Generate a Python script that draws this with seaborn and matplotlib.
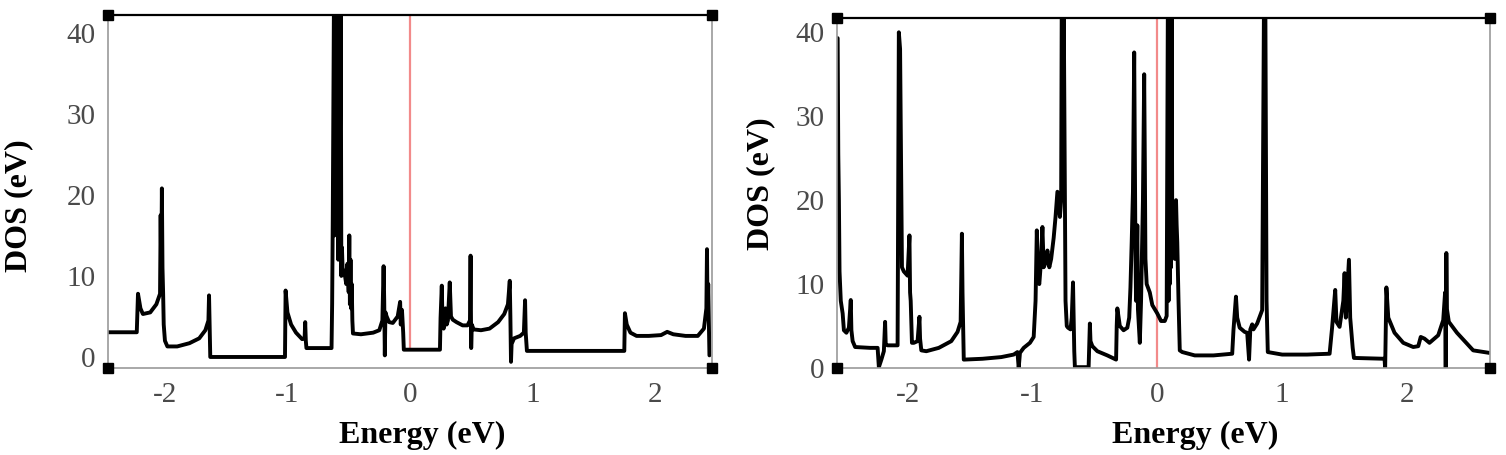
import matplotlib
matplotlib.use("Agg")
import matplotlib.pyplot as plt
import seaborn as sns
import pandas as pd

# DOS (energy in eV, DOS in states/eV)
left_energy = [
    -2.47, -2.23, -2.22, -2.20, -2.18, -2.12, -2.07, -2.04, -2.035, -2.03,
    -2.025, -2.02, -2.015, -2.01, -2.00, -1.98, -1.90, -1.80, -1.72, -1.67,
    -1.645, -1.64, -1.635, -1.63, -1.02, -1.015, -1.00, -0.97, -0.93, -0.88,
    -0.86, -0.855, -0.85, -0.845, -0.64, -0.635, -0.63, -0.62, -0.615, -0.61,
    -0.605, -0.60, -0.595, -0.59, -0.585, -0.58, -0.575, -0.565, -0.56, -0.555,
    -0.55, -0.53, -0.52, -0.51, -0.50, -0.495, -0.49, -0.485, -0.48, -0.475,
    -0.47, -0.465, -0.40, -0.30, -0.25, -0.225, -0.215, -0.21, -0.205, -0.20,
    -0.19, -0.17, -0.14, -0.10, -0.08, -0.075, -0.065, -0.055, -0.05, 0.245,
    0.25, 0.26, 0.265, 0.275, 0.28, 0.29, 0.30, 0.31, 0.325, 0.335,
    0.35, 0.38, 0.43, 0.47, 0.49, 0.495, 0.50, 0.505, 0.52, 0.58,
    0.65, 0.72, 0.77, 0.80, 0.815, 0.82, 0.825, 0.83, 0.85, 0.90,
    0.93, 0.94, 0.945, 0.955, 1.75, 1.755, 1.77, 1.80, 1.85, 1.95,
    2.05, 2.10, 2.15, 2.25, 2.35, 2.40, 2.42, 2.425, 2.43, 2.435,
    2.445,
]
left_dos = [
    3.05, 3.05, 7.8, 6.0, 5.3, 5.5, 6.5, 7.8, 17.5, 10,
    20.8, 11, 8, 4, 2.0, 1.3, 1.3, 1.7, 2.3, 3.3,
    4.5, 7.6, 3.5, 0.0, 0.0, 8.2, 5.5, 4.0, 3.0, 2.2,
    2.3, 4.3, 2.0, 1.1, 1.1, 6.6, 17, 45, 15, 45,
    20, 45, 18, 45, 12, 45, 14, 45, 10, 13.5,
    11, 10, 9, 11.5, 8, 15, 6.5, 12, 6, 9,
    4.5, 2.9, 2.8, 3.0, 3.3, 4.5, 11.2, 7, 0.2, 5.5,
    5, 4.3, 4.2, 5, 6.8, 4, 5.8, 3.0, 0.9, 0.9,
    4.8, 8.8, 5, 3.5, 4.5, 6, 4.0, 4.5, 9.2, 5,
    4.6, 4.3, 3.9, 3.9, 4.5, 12.5, 1.1, 4.0, 3.4, 3.3,
    3.5, 4.3, 5.3, 6.5, 9.4, 5, -0.6, 1.6, 2.3, 2.6,
    3.0, 7.0, 3.0, 0.75, 0.75, 5.4, 4.0, 3.0, 2.6, 2.6,
    2.7, 3.1, 2.8, 2.6, 2.6, 3.5, 6, 13.3, 5, 9,
    0.2,
]

right_energy = [
    -2.56, -2.555, -2.55, -2.545, -2.535, -2.52, -2.51, -2.49, -2.47, -2.455,
    -2.45, -2.44, -2.42, -2.30, -2.24, -2.23, -2.21, -2.19, -2.18, -2.175,
    -2.16, -2.08, -2.075, -2.07, -2.06, -2.05, -2.045, -2.03, -2.00, -1.985,
    -1.98, -1.975, -1.965, -1.95, -1.92, -1.905, -1.90, -1.89, -1.85, -1.75,
    -1.65, -1.60, -1.575, -1.565, -1.56, -1.555, -1.55, -1.40, -1.25, -1.15,
    -1.12, -1.11, -1.10, -1.07, -1.02, -0.99, -0.975, -0.965, -0.955, -0.945,
    -0.935, -0.92, -0.91, -0.895, -0.88, -0.865, -0.85, -0.83, -0.815, -0.80,
    -0.78, -0.77, -0.765, -0.755, -0.75, -0.74, -0.735, -0.725, -0.715, -0.695,
    -0.685, -0.675, -0.67, -0.665, -0.66, -0.55, -0.545, -0.54, -0.535, -0.52,
    -0.48, -0.40, -0.33, -0.325, -0.32, -0.30, -0.27, -0.24, -0.225, -0.215,
    -0.205, -0.195, -0.185, -0.18, -0.175, -0.17, -0.16, -0.155, -0.145, -0.14,
    -0.13, -0.115, -0.105, -0.10, -0.095, -0.085, -0.06, -0.04, -0.02, 0.00,
    0.03, 0.06, 0.075, 0.085, 0.09, 0.095, 0.10, 0.105, 0.11, 0.115,
    0.12, 0.13, 0.14, 0.15, 0.155, 0.16, 0.17, 0.18, 0.20, 0.30,
    0.45, 0.60, 0.61, 0.63, 0.64, 0.66, 0.70, 0.72, 0.735, 0.745,
    0.76, 0.77, 0.80, 0.84, 0.855, 0.865, 0.875, 0.885, 1.00, 1.20,
    1.38, 1.40, 1.425, 1.435, 1.46, 1.49, 1.50, 1.51, 1.525, 1.535,
    1.545, 1.565, 1.575, 1.82, 1.825, 1.835, 1.85, 1.90, 1.97, 2.05,
    2.09, 2.11, 2.14, 2.18, 2.25, 2.29, 2.305, 2.31, 2.315, 2.32,
    2.335, 2.40, 2.53, 2.66,
]
right_dos = [
    39.3, 25.5, 20, 11.5, 8, 6.5, 4.5, 4.2, 4.8, 8.1,
    4.5, 3.2, 2.5, 2.4, 2.4, 0.1, 1.0, 2.0, 5.5, 2.8,
    2.7, 2.7, 20, 40, 38, 21, 12, 11.5, 11, 15.8,
    9, 8, 3.0, 3.0, 3.2, 6.1, 3.5, 2.1, 2.0, 2.4,
    3.2, 4.3, 5.5, 16, 9, 5, 1.0, 1.1, 1.3, 1.6,
    1.9, 0.0, 1.8, 2.4, 3.0, 3.7, 8, 16.4, 10.5, 10,
    12, 16.8, 12, 12.5, 14, 12, 13, 15.5, 18, 21,
    18, 20, 45, 25, 45, 20, 8, 5, 4.8, 4.6,
    6, 10.2, 6, 2, 0.1, 0.1, 2.5, 5.3, 3.2, 2.6,
    2.0, 1.5, 1.0, 5, 7.1, 5, 4.5, 4.8, 6, 9.6,
    15, 21, 37.6, 26, 14, 8, 17, 7, 4.2, 3,
    8, 20, 35, 25, 13, 10, 9, 7.5, 7, 6.5,
    5.6, 5.6, 6.2, 45, 8, 45, 10, 45, 12, 45,
    14, 18, 13, 20, 17, 15, 8, 2.1, 1.9, 1.5,
    1.5, 1.7, 4.5, 8.5, 6, 4.8, 4.3, 4.2, 1.0, 4.6,
    5.2, 4.6, 5.3, 6.9, 45, 45, 8, 1.9, 1.6, 1.6,
    1.7, 4.8, 9.3, 5.5, 4.9, 8, 11.3, 6, 10, 12.9,
    6, 2.4, 1.2, 1.1, 0.0, 9.6, 6, 4.2, 3.0, 2.5,
    2.6, 3.7, 3.5, 3.0, 3.9, 5.7, 9, 0.0, 13.7, 7,
    5.5, 4.2, 2.1, 1.8,
]

x_ticks = [-2, -1, 0, 1, 2]
y_ticks = [0, 10, 20, 30, 40]

sns.set_style("white")
plt.rcParams["font.family"] = ["Liberation Serif", "DejaVu Serif"]
plt.rcParams["axes.unicode_minus"] = False

fig = plt.figure(figsize=(15.06, 4.55), dpi=100)
ax1 = fig.add_axes([0.0717, 0.1912, 0.401, 0.776])
ax2 = fig.add_axes([0.5558, 0.1912, 0.4336, 0.7692])

panels = [
    (ax1, left_energy, left_dos, (-2.465, 2.465), (-1.36, 42.2), 0.85, (0.52, -0.15), (-0.124, 0.46)),
    (ax2, right_energy, right_dos, (-2.565, 2.665), (0, 41.7), 0, (0.548, -0.151), (-0.095, 0.526)),
]

for ax, e, d, xlim, ylim, fermi_low, xl_pos, yl_pos in panels:
    df = pd.DataFrame({"Energy": e, "DOS": d})
    # Fermi level
    ax.vlines(0, fermi_low, ylim[1], color="#f28a8a", lw=1.6, zorder=1)
    sns.lineplot(data=df, x="Energy", y="DOS", ax=ax, sort=False, estimator=None,
                 color="black", lw=2.8, zorder=2)
    ax.set_xlim(*xlim)
    ax.set_ylim(*ylim)
    ax.set_xticks(x_ticks)
    ax.set_yticks(y_ticks)
    ax.tick_params(length=0, labelsize=21, labelcolor="#4a4a4a")
    ax.tick_params(axis="y", pad=9)
    ax.tick_params(axis="x", pad=10)
    ax.set_xlabel("Energy (eV)", fontsize=23, fontweight="bold", color="black")
    ax.set_ylabel("DOS (eV)", fontsize=23, fontweight="bold", color="black")
    ax.xaxis.set_label_coords(*xl_pos)
    ax.yaxis.set_label_coords(*yl_pos)
    for side in ["left", "right", "bottom"]:
        ax.spines[side].set_color("#9a9a9a")
        ax.spines[side].set_linewidth(1.2)
    ax.spines["top"].set_color("black")
    ax.spines["top"].set_linewidth(1.6)
    # corner handles
    ax.plot([0, 0, 1, 1], [0, 1, 0, 1], "s", color="black", ms=7.5,
            transform=ax.transAxes, clip_on=False, zorder=5)

fig.savefig("out.png", dpi=100)
